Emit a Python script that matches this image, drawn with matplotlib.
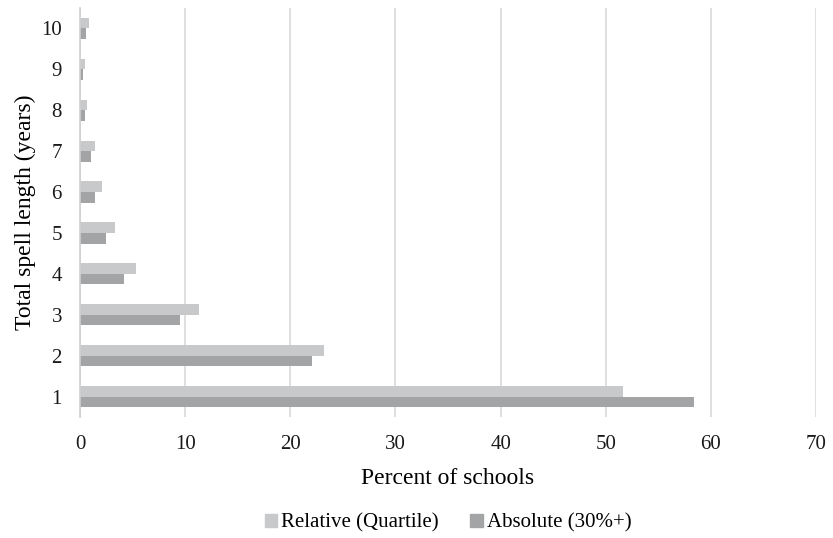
import numpy as np
import matplotlib.pyplot as plt
from matplotlib.patches import Patch

plt.rcParams['font.family'] = 'Liberation Serif'

years = [1, 2, 3, 4, 5, 6, 7, 8, 9, 10]
relative = [51.6, 23.2, 11.3, 5.3, 3.3, 2.1, 1.4, 0.7, 0.5, 0.9]
absolute = [58.4, 22.1, 9.5, 4.2, 2.5, 1.4, 1.0, 0.5, 0.3, 0.6]

c_rel = '#c8c9ca'
c_abs = '#a3a4a5'

fig = plt.figure(figsize=(8.33, 5.38), dpi=100)
ax = fig.add_axes([80/833, 1 - 417/538, 736/833, 409/538])

y = np.array(years)
h = 0.26
ax.barh(y + h/2, relative, height=h, color=c_rel)
ax.barh(y - h/2, absolute, height=h, color=c_abs)

ax.set_xlim(0, 70)
ax.set_ylim(0.5, 10.5)
ax.set_xticks(range(0, 71, 10))
ax.set_yticks(years)
ax.grid(axis='x', color='#d9d9d9', linewidth=1.2)
ax.set_axisbelow(True)
for s in ['top', 'right', 'bottom']:
    ax.spines[s].set_visible(False)
ax.spines['left'].set_color('#d0d0d0')
ax.spines['left'].set_linewidth(1.2)
ax.tick_params(length=0, labelsize=15, colors='#1a1a1a')
ax.tick_params(axis='x', pad=13)
ax.tick_params(axis='y', pad=13)

ax.set_xlabel('Percent of schools', fontsize=17, labelpad=10)
ax.set_ylabel('Total spell length (years)', fontsize=17, labelpad=4)

# legend sits under the plot area, centred on it
handles = [Patch(color=c_rel, label='Relative (Quartile)'),
           Patch(color=c_abs, label='Absolute (30%+)')]
fig.legend(handles=handles, loc='center', bbox_to_anchor=(448/833, 1 - 523/538),
           ncol=2, frameon=False, fontsize=15, handlelength=0.6,
           handleheight=0.6, handletextpad=0.2, columnspacing=1.5)

fig.savefig('out.png', dpi=100)
